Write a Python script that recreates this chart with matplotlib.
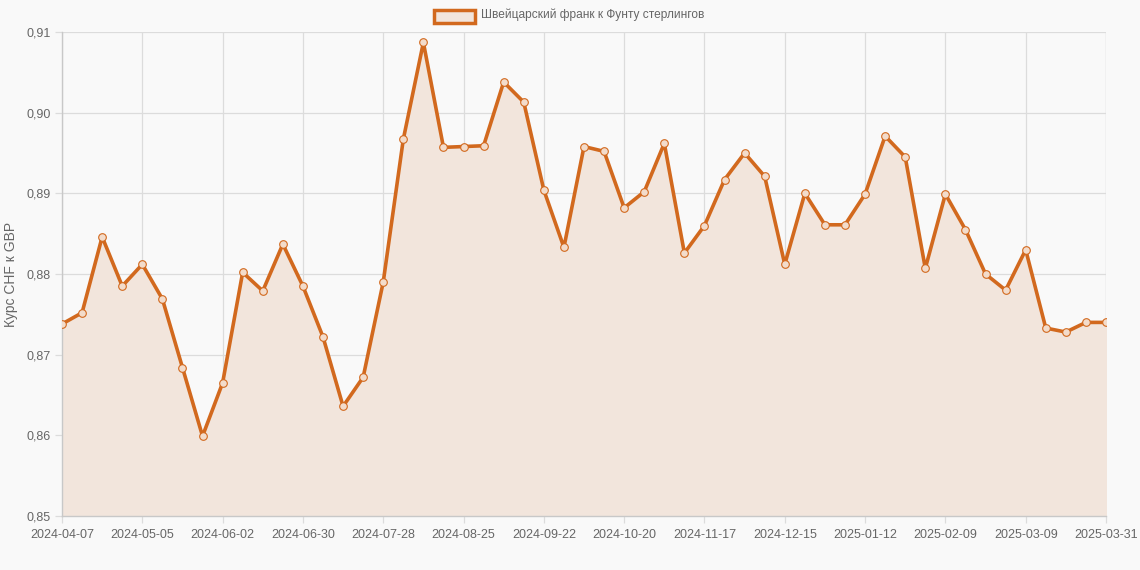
import matplotlib.pyplot as plt
from matplotlib.patches import Rectangle
from matplotlib.ticker import FuncFormatter, MultipleLocator

plt.rcParams['font.family'] = ['Liberation Sans', 'DejaVu Sans']

# weekly rate CHF -> GBP
rates = [0.8738, 0.8752, 0.8846, 0.8785, 0.8812, 0.8769, 0.8684, 0.8599,
         0.8665, 0.8802, 0.8779, 0.8837, 0.8785, 0.8722, 0.8636, 0.8672,
         0.8790, 0.8967, 0.9087, 0.8957, 0.8958, 0.8959, 0.9038, 0.9013,
         0.8904, 0.8833, 0.8958, 0.8952, 0.8882, 0.8902, 0.8962, 0.8826,
         0.8860, 0.8917, 0.8950, 0.8921, 0.8812, 0.8900, 0.8861, 0.8861,
         0.8899, 0.8971, 0.8945, 0.8807, 0.8899, 0.8855, 0.8800, 0.8780,
         0.8830, 0.8733, 0.8728, 0.8740, 0.8740]

tick_idx = [0, 4, 8, 12, 16, 20, 24, 28, 32, 36, 40, 44, 48, 52]
tick_labels = ['2024-04-07', '2024-05-05', '2024-06-02', '2024-06-30',
               '2024-07-28', '2024-08-25', '2024-09-22', '2024-10-20',
               '2024-11-17', '2024-12-15', '2025-01-12', '2025-02-09',
               '2025-03-09', '2025-03-31']

series_name = 'Швейцарский франк к Фунту стерлингов'
line_col = '#d2691e'
fill_col = '#f2e5dc'
bg = '#f9f9f9'

fig = plt.figure(figsize=(11.4, 5.7), dpi=100, facecolor=bg)
ax = fig.add_axes([62/1140, 1 - 516/570, (1106-62)/1140, (516-32)/570])
ax.set_facecolor(bg)

x = list(range(len(rates)))
ax.fill_between(x, rates, 0.85, color=fill_col, zorder=1)
ax.plot(x, rates, color=line_col, lw=2.6, zorder=3)
ax.plot(x, rates, 'o', ms=5.5, mfc='#f3dccb', mec=line_col, mew=0.8, zorder=4)

ax.set_xlim(0, len(rates) - 1)
ax.set_ylim(0.85, 0.91)
ax.set_xticks(tick_idx)
ax.set_xticklabels(tick_labels)
ax.yaxis.set_major_locator(MultipleLocator(0.01))
ax.yaxis.set_major_formatter(FuncFormatter(lambda v, p: f'{v:.2f}'.replace('.', ',')))

ax.grid(True, color='#dcdcdc', lw=0.9, zorder=0)
ax.set_axisbelow(True)
for s in ['top', 'right']:
    ax.spines[s].set_visible(False)
for s in ['left', 'bottom']:
    ax.spines[s].set_color('#c8c8c8')
    ax.spines[s].set_linewidth(1)
ax.tick_params(colors='#666666', labelsize=9, length=5, width=0.9)
ax.tick_params(axis='both', color='#dcdcdc')
ax.tick_params(axis='x', pad=4)
ax.tick_params(axis='y', pad=3)

# right border line like the reference
ax.axvline(len(rates) - 1, color='#dcdcdc', lw=0.9, zorder=0)

ax.set_ylabel('Курс CHF к GBP', color='#666666', fontsize=10, labelpad=6)

# legend drawn at the top
fig.patches.append(Rectangle((434/1140, 1 - 23/570), 41/1140, 13/570,
                             transform=fig.transFigure, facecolor=fill_col,
                             edgecolor=line_col, lw=2.5))
fig.text(481/1140, 1 - 15/570, series_name, color='#666666', fontsize=8.6,
         va='center', ha='left')

fig.savefig('out.png', dpi=100, facecolor=bg)
